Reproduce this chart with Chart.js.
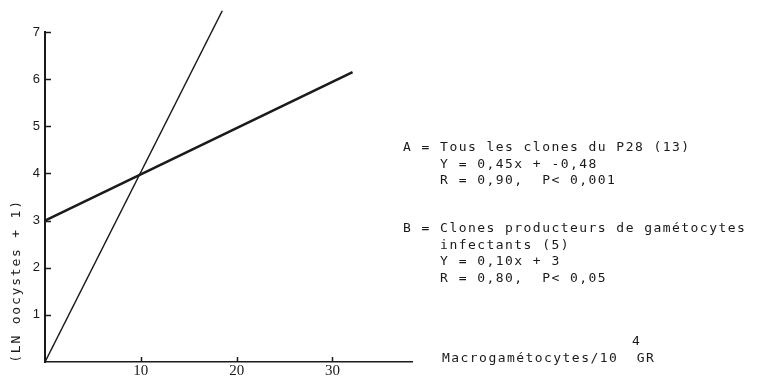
<!DOCTYPE html>
<html>
<head>
<meta charset="utf-8">
<script src="https://cdn.jsdelivr.net/npm/chart.js@4.4.1/dist/chart.umd.min.js"></script>
<style>
  body { margin: 0; background: #fff; }
  canvas { display: block; }
</style>
</head>
<body>
<canvas id="chart" width="764" height="377"></canvas>
<script>
// Values
const lineAX = [0, 18.5];
const lineAY = [0, 7.45];
const lineBX = [0, 32.1];
const lineBY = [3, 6.15];

const xTickValues = [10, 20, 30];
const yTickValues = [1, 2, 3, 4, 5, 6, 7];

const yTitle = "(LN oocystes + 1)";
const xTitle = "Macrogamétocytes/10  GR";
const xTitleExp = "4";

const legendA = [
  "A = Tous les clones du P28 (13)",
  "    Y = 0,45x + -0,48",
  "    R = 0,90,  P< 0,001"
];
const legendB = [
  "B = Clones producteurs de gamétocytes",
  "    infectants (5)",
  "    Y = 0,10x + 3",
  "    R = 0,80,  P< 0,05"
];

const ink = "#1a1a1a";
const mono = "13px 'DejaVu Sans Mono', monospace";

function toPoints(xs, ys) {
  return xs.map((x, i) => ({ x: x, y: ys[i] }));
}

// Small inward tick marks, the free text and the rotated y title
const extras = {
  id: "extras",
  afterDraw(chart) {
    const ctx = chart.ctx;
    const xs = chart.scales.x;
    const ys = chart.scales.y;
    ctx.save();
    ctx.strokeStyle = ink;
    ctx.lineWidth = 1.5;
    yTickValues.forEach(v => {
      const py = Math.round(ys.getPixelForValue(v)) + 0.5;
      ctx.beginPath();
      ctx.moveTo(xs.left, py);
      ctx.lineTo(xs.left + 6, py);
      ctx.stroke();
    });
    xTickValues.forEach(v => {
      const px = Math.round(xs.getPixelForValue(v)) + 0.5;
      ctx.beginPath();
      ctx.moveTo(px, ys.bottom);
      ctx.lineTo(px, ys.bottom - 5);
      ctx.stroke();
    });

    ctx.fillStyle = ink;
    ctx.font = mono;
    ctx.letterSpacing = "1.45px";
    ctx.textBaseline = "alphabetic";
    ctx.textAlign = "left";
    legendA.forEach((t, i) => ctx.fillText(t, 403, 151 + i * 16.7));
    legendB.forEach((t, i) => ctx.fillText(t, 403, 232 + i * 16.7));
    ctx.fillText(xTitle, 442, 362);
    ctx.fillText(xTitleExp, 632, 345);

    ctx.translate(20, 281);
    ctx.rotate(-Math.PI / 2);
    ctx.textAlign = "center";
    ctx.letterSpacing = "1.8px";
    ctx.fillText(yTitle, 0, 0);
    ctx.restore();
  }
};

const ctx = document.getElementById("chart").getContext("2d");

new Chart(ctx, {
  type: "scatter",
  data: {
    datasets: [
      {
        label: "A",
        data: toPoints(lineAX, lineAY),
        showLine: true,
        borderColor: ink,
        borderWidth: 1.5,
        pointRadius: 0,
        clip: false
      },
      {
        label: "B",
        data: toPoints(lineBX, lineBY),
        showLine: true,
        borderColor: ink,
        borderWidth: 2.6,
        pointRadius: 0,
        clip: false
      }
    ]
  },
  options: {
    responsive: false,
    animation: false,
    layout: { padding: { top: 32, right: 352, left: 0, bottom: 0 } },
    plugins: {
      legend: { display: false },
      tooltip: { enabled: false }
    },
    scales: {
      x: {
        type: "linear",
        min: 0,
        max: 38.3,
        afterFit(scale) { scale.height = 15; },
        afterBuildTicks(scale) { scale.ticks = xTickValues.map(v => ({ value: v })); },
        grid: { display: false, drawTicks: false },
        border: { display: true, color: ink, width: 1.5 },
        ticks: {
          padding: 0,
          color: ink,
          font: { family: "'Liberation Serif', serif", size: 15 }
        }
      },
      y: {
        type: "linear",
        min: 0,
        max: 7,
        afterFit(scale) { scale.width = 45; },
        afterBuildTicks(scale) { scale.ticks = yTickValues.map(v => ({ value: v })); },
        grid: { display: false, drawTicks: false },
        border: { display: true, color: ink, width: 2 },
        ticks: {
          padding: 5,
          color: ink,
          font: { family: "'Liberation Sans', sans-serif", size: 13 }
        }
      }
    }
  },
  plugins: [extras]
});
</script>
</body>
</html>
